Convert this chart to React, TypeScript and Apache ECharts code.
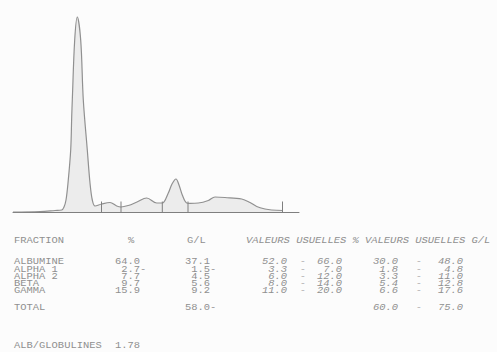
import React, { useEffect, useRef } from "react";
import * as echarts from "echarts";

// Densitometric curve (migration position, optical density)
const curveX = [0, 27, 42, 48.7, 51, 53, 55, 57.7, 58.7, 59.3, 61.7, 64.3, 67.7, 70.3, 74.3, 77, 79.3, 82, 88.7, 97, 103.7, 108, 115.3, 124, 133.7, 143.7, 149.3, 155.3, 159, 163, 166, 169.3, 173.7, 177, 185.3, 195.3, 202, 212, 228.7, 237, 243.7, 252, 258.7, 270];
const curveY = [0, 0.5, 1.5, 2, 5, 12, 29, 62, 95, 112, 172, 195, 172, 112, 62, 29, 12, 6, 8, 9.5, 6, 5, 6.5, 10, 14, 9, 9, 19, 28, 33, 27, 17, 9, 8.7, 9, 11.5, 15, 14.5, 13, 9.5, 5.5, 3, 2, 1.5];

// Fraction separators (migration positions)
const fractionBounds = [88.5, 108, 149.3, 175, 269.5];
const boundHeight = 10.5;

// Table
const headerLeft = ["FRACTION", "%", "G/L"];
const headerRight = "VALEURS USUELLES % VALEURS USUELLES G/L";
const fractions = ["ALBUMINE", "ALPHA 1", "ALPHA 2", "BETA", "GAMMA"];
const percents = [64.0, 2.7, 7.7, 9.7, 15.9];
const percentFlags = ["", "-", "", "", ""];
const gramsPerLitre = [37.1, 1.5, 4.5, 5.6, 9.2];
const gramsFlags = ["", "-", "", "", ""];
const refPctLow = [52.0, 3.3, 6.0, 8.0, 11.0];
const refPctHigh = [66.0, 7.0, 12.0, 14.0, 20.0];
const refGlLow = [30.0, 1.8, 3.3, 5.4, 6.6];
const refGlHigh = [48.0, 4.8, 11.0, 12.8, 17.6];
const totalLabel = "TOTAL";
const totalGl = 58.0;
const totalFlag = "-";
const totalRefLow = 60.0;
const totalRefHigh = 75.0;
const ratioLabel = "ALB/GLOBULINES";
const albGlobRatio = 1.78;

const INK = "#8f8f8f";
const FS = 8.5;
const SX = 1.23;

function txt(text: string, x: number, y: number, align: string, italic: boolean) {
  return {
    type: "text",
    x,
    y,
    scaleX: SX,
    silent: true,
    style: {
      text,
      fill: INK,
      fontFamily: "'Liberation Mono', 'DejaVu Sans Mono', monospace",
      fontSize: FS,
      fontStyle: italic ? "italic" : "normal",
      textAlign: align,
      textVerticalAlign: "middle",
      align,
      verticalAlign: "middle",
    },
  };
}

export default function App() {
  const ref = useRef<HTMLDivElement>(null);
  useEffect(() => {
    if (!ref.current) return;
    const chart = echarts.init(ref.current, null, { renderer: "svg" });

    const headerY = 241;
    const rowY0 = 262;
    const rowStep = 7.3;
    const totalY = 308;
    const ratioY = 346;

    const g: any[] = [];
    g.push(txt(headerLeft[0], 14, headerY, "left", false));
    g.push(txt(headerLeft[1], 128, headerY, "left", false));
    g.push(txt(headerLeft[2], 187, headerY, "left", false));
    g.push(txt(headerRight, 246, headerY, "left", true));

    fractions.forEach((f, i) => {
      const y = rowY0 + i * rowStep;
      g.push(txt(f, 14, y, "left", false));
      g.push(txt(percents[i].toFixed(1), 140, y, "right", false));
      if (percentFlags[i]) g.push(txt(percentFlags[i], 140, y, "left", false));
      g.push(txt(gramsPerLitre[i].toFixed(1), 210, y, "right", false));
      if (gramsFlags[i]) g.push(txt(gramsFlags[i], 210, y, "left", false));
      g.push(txt(refPctLow[i].toFixed(1), 287, y, "right", true));
      g.push(txt("-", 303, y, "center", true));
      g.push(txt(refPctHigh[i].toFixed(1), 342, y, "right", true));
      g.push(txt(refGlLow[i].toFixed(1), 398, y, "right", true));
      g.push(txt("-", 419, y, "center", true));
      g.push(txt(refGlHigh[i].toFixed(1), 463, y, "right", true));
    });

    g.push(txt(totalLabel, 14, totalY, "left", false));
    g.push(txt(totalGl.toFixed(1), 210, totalY, "right", false));
    g.push(txt(totalFlag, 210, totalY, "left", false));
    g.push(txt(totalRefLow.toFixed(1), 398, totalY, "right", true));
    g.push(txt("-", 419, totalY, "center", true));
    g.push(txt(totalRefHigh.toFixed(1), 463, totalY, "right", true));

    g.push(txt(ratioLabel, 14, ratioY, "left", false));
    g.push(txt(albGlobRatio.toFixed(2), 140, ratioY, "right", false));

    chart.setOption({
      animation: false,
      backgroundColor: "#fcfcfc",
      grid: { left: 13, right: 198, top: 12, bottom: 140, containLabel: false },
      xAxis: {
        type: "value",
        min: 0,
        max: 286,
        axisLine: { show: true, onZero: false, lineStyle: { color: "#7f7f7f", width: 1 } },
        axisTick: { show: false },
        axisLabel: { show: false },
        splitLine: { show: false },
      },
      yAxis: {
        type: "value",
        min: 0,
        max: 200,
        show: false,
        splitLine: { show: false },
      },
      series: [
        {
          type: "line",
          data: curveX.map((x, i) => [x, curveY[i]]),
          smooth: 0.35,
          showSymbol: false,
          lineStyle: { color: "#909090", width: 1.2 },
          areaStyle: { color: "#ececec", opacity: 1 },
          silent: true,
          z: 2,
        },
        {
          type: "custom",
          data: fractionBounds.map((x) => [x, boundHeight]),
          renderItem: (_p: any, api: any) => {
            const a = api.coord([api.value(0), 0]);
            const b = api.coord([api.value(0), api.value(1)]);
            return {
              type: "line",
              shape: { x1: a[0], y1: a[1], x2: b[0], y2: b[1] },
              style: { stroke: "#7f7f7f", lineWidth: 1 },
            };
          },
          silent: true,
          z: 3,
        },
      ],
      graphic: g,
    });
    return () => chart.dispose();
  }, []);
  return (
    <div style={{ position: "fixed", left: 0, top: 0, width: 497, height: 352 }}>
      <div ref={ref} style={{ width: 497, height: 352 }} />
    </div>
  );
}
